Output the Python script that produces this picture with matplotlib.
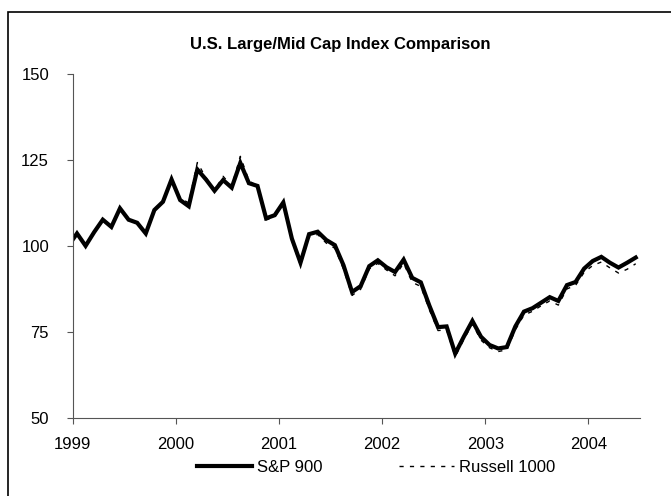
import numpy as np
import matplotlib
matplotlib.use("Agg")
import matplotlib.pyplot as plt
from matplotlib.patches import Rectangle

plt.rcParams["font.family"] = ["Liberation Sans Narrow", "Liberation Sans", "DejaVu Sans"]

# Monthly index levels, Dec 1998 = 100, through Jun 2004
sp900 = [
    100.0,
    103.6, 100.0, 104.0, 107.6, 105.5, 110.9, 107.6, 106.7, 103.6, 110.4, 112.8, 119.3,
    113.3, 111.5, 122.2, 119.3, 116.0, 119.1, 116.9, 124.1, 118.2, 117.4, 108.0, 108.9,
    112.6, 102.1, 95.1, 103.4, 104.1, 101.7, 100.2, 94.4, 86.6, 88.3, 94.1, 95.8,
    93.8, 92.4, 96.0, 90.7, 89.4, 82.6, 76.4, 76.6, 68.7, 73.6, 78.2, 73.6,
    71.2, 70.2, 70.6, 76.6, 80.9, 81.9, 83.5, 85.1, 84.0, 88.6, 89.5, 93.4,
    95.6, 96.8, 95.1, 93.7, 95.1, 96.6,
]
russell1000 = [
    100.0,
    103.7, 100.2, 104.2, 107.4, 105.2, 110.7, 107.4, 106.5, 103.5, 110.6, 113.2, 119.6,
    113.8, 112.5, 124.2, 119.8, 116.2, 120.2, 117.3, 126.0, 119.0, 117.2, 107.5, 108.4,
    112.0, 101.4, 94.4, 102.6, 103.3, 100.8, 99.3, 93.3, 85.6, 87.4, 93.3, 94.9,
    93.0, 91.3, 94.9, 89.4, 88.2, 81.4, 75.4, 75.6, 67.8, 72.8, 77.3, 72.6,
    70.4, 69.3, 69.8, 75.6, 79.9, 81.0, 82.6, 84.0, 82.8, 87.5, 88.5, 92.3,
    94.3, 95.3, 93.6, 92.1, 93.2, 94.8,
]
years = ["1999", "2000", "2001", "2002", "2003", "2004"]
y_ticks = [50, 75, 100, 125, 150]

# months since Jan 1 1999, points sit mid-month
months = np.arange(len(sp900)) - 0.5

fig = plt.figure(figsize=(6.71, 4.96), dpi=100)
fig.patches.append(Rectangle((8 / 671, -0.1), 1.2, 1.1 - 12 / 496,
                             transform=fig.transFigure, fill=False,
                             edgecolor="black", linewidth=1.2))

ax = fig.add_axes([72.7 / 671, 1 - 418 / 496, (640 - 72.7) / 671, (418 - 73.7) / 496])
ax.plot(months, russell1000, color="black", linewidth=1.0, dashes=(3, 4.5),
        label="Russell 1000", zorder=3)
ax.plot(months, sp900, color="black", linewidth=3.0, label="S&P 900",
        solid_joinstyle="miter", zorder=2)

ax.set_xlim(0, 66)
ax.set_ylim(50, 150)
ax.set_yticks(y_ticks)
ax.set_xticks(np.arange(len(years)) * 12)
ax.set_xticklabels(years)
ax.tick_params(axis="both", direction="out", length=4, width=0.8,
               labelsize=12, color="#555555")
ax.tick_params(axis="x", pad=10)
ax.tick_params(axis="y", pad=13)
for s in ["top", "right"]:
    ax.spines[s].set_visible(False)
for s in ["left", "bottom"]:
    ax.spines[s].set_color("#555555")
    ax.spines[s].set_linewidth(0.8)

fig.text(340 / 671, 1 - 44 / 496, "U.S. Large/Mid Cap Index Comparison",
         ha="center", va="center", fontsize=12, fontweight="bold")

handles, labels = ax.get_legend_handles_labels()
fig.legend(handles[::-1], labels[::-1], loc="center", ncol=2,
           bbox_to_anchor=(376 / 671, 1 - 467 / 496), frameon=False,
           fontsize=12, handlelength=3.3, handletextpad=0.3, columnspacing=4.6)

fig.savefig("out.png", dpi=100)
